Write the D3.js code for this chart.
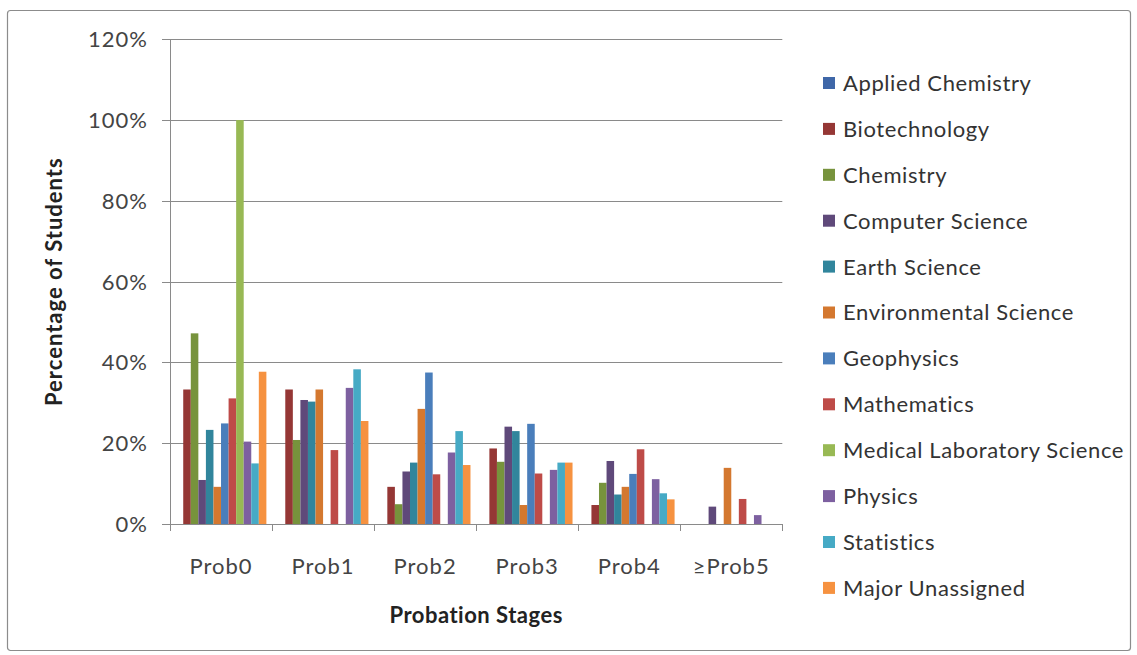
<!DOCTYPE html>
<html>
<head>
<meta charset="utf-8">
<script src="https://cdn.jsdelivr.net/npm/d3@7/dist/d3.min.js"></script>
<style>
  html, body { margin: 0; padding: 0; background: #fff; }
  svg { display: block; font-family: Lato, "Open Sans", sans-serif; }
</style>
</head>
<body>
<svg id="chart" width="1137" height="655"></svg>
<script>
// Probation stages on the x axis
const stages = ["Prob0", "Prob1", "Prob2", "Prob3", "Prob4", "\u2265Prob5"];

// Majors, in legend / bar order
const majors = [
  "Applied Chemistry", "Biotechnology", "Chemistry", "Computer Science",
  "Earth Science", "Environmental Science", "Geophysics", "Mathematics",
  "Medical Laboratory Science", "Physics", "Statistics", "Major Unassigned"
];

// Percentage of students in each stage, one array per major
const appliedChemistry   = [0, 0, 0, 0, 0, 0];
const biotechnology      = [33.3, 33.3, 9.2, 18.7, 4.7, 0];
const chemistry          = [47.2, 20.8, 4.9, 15.4, 10.2, 0];
const computerScience    = [10.9, 30.7, 13.0, 24.1, 15.6, 4.3];
const earthScience       = [23.3, 30.3, 15.2, 23.0, 7.3, 0];
const environmental      = [9.2, 33.3, 28.5, 4.7, 9.2, 13.9];
const geophysics         = [24.9, 0, 37.5, 24.8, 12.4, 0];
const mathematics        = [31.1, 18.3, 12.3, 12.5, 18.5, 6.2];
const medicalLab         = [100, 0, 0, 0, 0, 0];
const physics            = [20.4, 33.7, 17.7, 13.4, 11.1, 2.2];
const statistics         = [15.0, 38.3, 23.0, 15.2, 7.6, 0];
const majorUnassigned    = [37.7, 25.5, 14.6, 15.2, 6.1, 0];

const seriesValues = [
  appliedChemistry, biotechnology, chemistry, computerScience,
  earthScience, environmental, geophysics, mathematics,
  medicalLab, physics, statistics, majorUnassigned
];

// Y axis ticks (percent)
const yTicks = [0, 20, 40, 60, 80, 100, 120];

const colors = [
  "#3F67A8", "#953735", "#77933C", "#5F497A", "#31859C", "#D4782F",
  "#4A7EBB", "#BE4B48", "#98B954", "#7D60A0", "#46AAC5", "#F69240"
];

const svg = d3.select("#chart");

// outer chart frame
svg.append("rect")
  .attr("x", 7.5).attr("y", 10.5)
  .attr("width", 1123).attr("height", 640)
  .attr("rx", 3)
  .attr("fill", "#fff")
  .attr("stroke", "#8c8c8c")
  .attr("stroke-width", 1.2);

const plot = { left: 170, right: 782.3, top: 39.3, bottom: 524 };

const x = d3.scaleBand()
  .domain(stages)
  .range([plot.left, plot.right])
  .paddingInner(0).paddingOuter(0);

// 12 bars per stage, 150% gap split at both ends
const xInner = d3.scaleBand()
  .domain(majors)
  .range([0, x.bandwidth()])
  .paddingInner(0)
  .paddingOuter(0.75);

const y = d3.scaleLinear()
  .domain([0, 120])
  .range([plot.bottom, plot.top]);

// gridlines with outside tick marks
const grid = svg.append("g");
grid.selectAll("line")
  .data(yTicks)
  .join("line")
  .attr("x1", plot.left - 8).attr("x2", plot.right)
  .attr("y1", d => Math.round(y(d)) + 0.5)
  .attr("y2", d => Math.round(y(d)) + 0.5)
  .attr("stroke", "#8a8a8a")
  .attr("stroke-width", 1);

// y tick labels
svg.append("g").selectAll("text")
  .data(yTicks)
  .join("text")
  .attr("x", 148)
  .attr("y", d => y(d))
  .attr("dy", "0.36em")
  .attr("text-anchor", "end")
  .attr("font-size", 22)
  .attr("letter-spacing", 1)
  .attr("fill", "#444")
  .text(d => d3.format(".0%")(d / 100));

// bars
const groups = svg.append("g").selectAll("g")
  .data(majors)
  .join("g")
  .attr("fill", (d, i) => colors[i]);

groups.selectAll("rect")
  .data((m, i) => stages.map((s, j) => ({ stage: s, major: m, value: seriesValues[i][j] })))
  .join("rect")
  .filter(d => d.value > 0)
  .attr("x", d => x(d.stage) + xInner(d.major))
  .attr("width", xInner.bandwidth())
  .attr("y", d => y(d.value))
  .attr("height", d => y(0) - y(d.value));

// y axis line
svg.append("line")
  .attr("x1", plot.left + 0.5).attr("x2", plot.left + 0.5)
  .attr("y1", plot.top).attr("y2", plot.bottom)
  .attr("stroke", "#8a8a8a");

// x axis line and category boundary ticks
svg.append("line")
  .attr("x1", plot.left).attr("x2", plot.right)
  .attr("y1", Math.round(y(0)) + 0.5).attr("y2", Math.round(y(0)) + 0.5)
  .attr("stroke", "#8a8a8a");

const boundaries = stages.map(s => x(s)).concat([plot.right]);
svg.append("g").selectAll("line")
  .data(boundaries)
  .join("line")
  .attr("x1", d => Math.round(d) + 0.5).attr("x2", d => Math.round(d) + 0.5)
  .attr("y1", y(0)).attr("y2", y(0) + 7)
  .attr("stroke", "#8a8a8a");

// x tick labels
svg.append("g").selectAll("text")
  .data(stages)
  .join("text")
  .attr("x", d => x(d) + x.bandwidth() / 2)
  .attr("y", 574)
  .attr("text-anchor", "middle")
  .attr("font-size", 22)
  .attr("letter-spacing", 1)
  .attr("fill", "#444")
  .text(d => d);

// axis titles
svg.append("text")
  .attr("x", (plot.left + plot.right) / 2)
  .attr("y", 623)
  .attr("text-anchor", "middle")
  .attr("font-size", 22)
  .attr("letter-spacing", 0.5)
  .attr("font-weight", "bold")
  .attr("fill", "#222")
  .text("Probation Stages");

svg.append("text")
  .attr("transform", `translate(62,${(plot.top + plot.bottom) / 2}) rotate(-90)`)
  .attr("text-anchor", "middle")
  .attr("font-size", 22)
  .attr("letter-spacing", 1)
  .attr("font-weight", "bold")
  .attr("fill", "#222")
  .text("Percentage of Students");

// legend
const legend = svg.append("g").selectAll("g")
  .data(majors)
  .join("g")
  .attr("transform", (d, i) => `translate(823,${83 + i * 45.9})`);

legend.append("rect")
  .attr("x", 0).attr("y", -6)
  .attr("width", 12).attr("height", 12)
  .attr("fill", (d, i) => colors[i]);

legend.append("text")
  .attr("x", 20)
  .attr("dy", "0.36em")
  .attr("font-size", 22)
  .attr("letter-spacing", 0.6)
  .attr("fill", "#333")
  .text(d => d);
</script>
</body>
</html>
